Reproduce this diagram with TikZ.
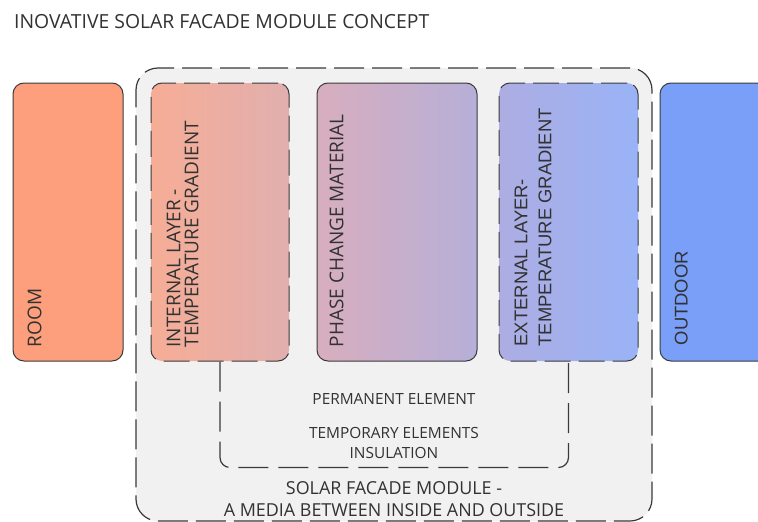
\documentclass[tikz,border=0pt]{standalone}
\usepackage{fontspec}
\setmainfont{Open Sans}
\newfontfamily\arialfont{Liberation Sans}
\usetikzlibrary{positioning}
\definecolor{edgegray}{RGB}{58,58,58}
\definecolor{textgray}{RGB}{50,50,50}
\definecolor{modulegray}{RGB}{241,241,241}
\definecolor{roomorange}{RGB}{253,159,124}
\definecolor{innerleft}{RGB}{246,173,150}
\definecolor{innerright}{RGB}{225,175,175}
\definecolor{pcmleft}{RGB}{216,174,190}
\definecolor{pcmright}{RGB}{182,175,216}
\definecolor{outerleft}{RGB}{173,173,226}
\definecolor{outerright}{RGB}{153,179,247}
\definecolor{outdoorblue}{RGB}{122,159,249}

\tikzset{
  layer/.style={rectangle, draw=edgegray, line width=1pt, rounded corners=11pt,
    inner sep=0pt, minimum height=278pt},
  dashedlayer/.style={layer, dash pattern=on 26pt off 8pt},
  moduleframe/.style={rectangle, draw=edgegray, fill=modulegray, line width=1.2pt,
    rounded corners=22pt, dash pattern=on 30pt off 8pt},
  templine/.style={draw=edgegray, line width=1.2pt, rounded corners=10pt,
    dash pattern=on 30pt off 10pt},
  vlabel/.style={rotate=90, anchor=north west, inner sep=0pt, text=textgray,
    align=left, font=\fontsize{19}{18}\selectfont},
  arial/.style={font=\arialfont\fontsize{18.4}{24}\selectfont},
  titletext/.style={inner sep=0pt, text=textgray, font=\fontsize{19.4}{22}\selectfont},
  smalltext/.style={inner sep=0pt, text=textgray, align=center,
    font=\fontsize{15.4}{20}\selectfont},
  moduletext/.style={inner sep=0pt, text=textgray, align=center,
    font=\fontsize{17.9}{22}\selectfont}
}

\begin{document}
\begin{tikzpicture}[x=1pt, y=1pt]
\clip (0,0) rectangle (758,-522);
\fill[white] (0,0) rectangle (758,-522);

% title
\node[titletext, anchor=north west] (title) at (14,-14) {INOVATIVE SOLAR FACADE MODULE CONCEPT};

% the module frame behind the three layers
\node[moduleframe, minimum width=516pt, minimum height=453pt] (module) at (394,-294.5) {};

% room and outdoor on either side
\node[layer, fill=roomorange, minimum width=110pt] (room) at (68,-222) {};
\node[layer, fill=outdoorblue, minimum width=150pt] (outdoor) at (735,-222) {};

% layers of the module
\node[dashedlayer, left color=innerleft, right color=innerright, minimum width=138pt] (internal) at (220,-222) {};
\node[layer, left color=pcmleft, right color=pcmright, minimum width=160pt] (pcm) at (397,-222) {};
\node[dashedlayer, left color=outerleft, right color=outerright, minimum width=139pt] (external) at (568.5,-222) {};

% temporary elements bracket
\draw[templine] (internal.south) -- ++(0,-106) -| (external.south);

% labels
\node[vlabel] (roomlabel) at ([xshift=15pt, yshift=14pt]room.south west) {ROOM};
\node[vlabel] (internallabel) at ([xshift=16pt, yshift=14pt]internal.south west) {INTERNAL LAYER -\\TEMPERATURE GRADIENT};
\node[vlabel] (pcmlabel) at ([xshift=13pt, yshift=14pt]pcm.south west) {PHASE CHANGE MATERIAL};
\node[vlabel, arial] (externallabel) at ([xshift=16pt, yshift=15pt]external.south west) {EXTERNAL LAYER-\\TEMPERATURE GRADIENT};
\node[vlabel, arial] (outdoorlabel) at ([xshift=15pt, yshift=16pt]outdoor.south west) {OUTDOOR};

\node[smalltext, anchor=base] (permanent) at (394,-404) {PERMANENT ELEMENT};
\node[smalltext, anchor=north] (temporary) at (394,-427) {TEMPORARY ELEMENTS\\INSULATION};
\node[moduletext, anchor=north] (caption) at (394,-481) {SOLAR FACADE MODULE -\\A MEDIA BETWEEN INSIDE AND OUTSIDE};
\end{tikzpicture}
\end{document}
